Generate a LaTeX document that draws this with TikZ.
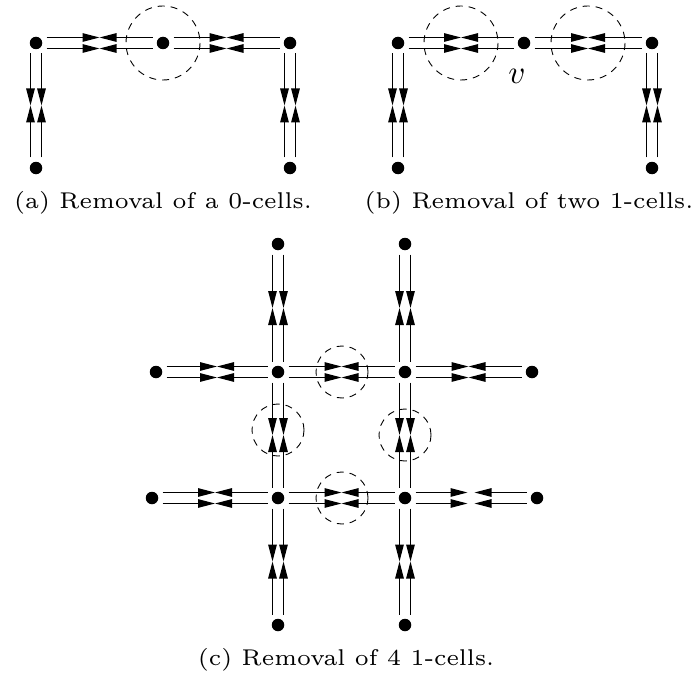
\documentclass[tikz,border=0pt]{standalone}
\usepackage{tikz}
\usetikzlibrary{arrows.meta}
\usetikzlibrary{calc}

\begin{document}
\begin{tikzpicture}[
  x=1pt, y=-1pt,
  dot/.style={circle, fill, inner sep=0pt, minimum size=12.5pt},
  half/.style={line width=1.1pt, shorten <=10.5pt, -{Triangle[length=17pt, width=8.5pt]}},
  zone/.style={dash pattern=on 7pt off 6pt, line width=0.9pt},
  caption/.style={anchor=base, inner sep=0pt, font=\fontsize{6}{7}\selectfont},
]
  \useasboundingbox (0,0) rectangle (696,682);

  % Nodes (a)
  \node[dot] (a1) at (36,43)   {};
  \node[dot] (a2) at (163,43)  {};
  \node[dot] (a3) at (290,43)  {};
  \node[dot] (a4) at (36,168)  {};
  \node[dot] (a5) at (290,168) {};

  % Nodes (b)
  \node[dot] (b1) at (398,43)  {};
  \node[dot] (b2) at (524,43)  {};
  \node[dot] (b3) at (652,43)  {};
  \node[dot] (b4) at (398,168) {};
  \node[dot] (b5) at (652,168) {};
  \node (vlab) at (517,76) {\scalebox{3.3}{$v$}};

  % Nodes (c)
  \node[dot] (c1)  at (278,244) {};
  \node[dot] (c2)  at (405,244) {};
  \node[dot] (c3)  at (156,372) {};
  \node[dot] (c4)  at (278,372) {};
  \node[dot] (c5)  at (405,372) {};
  \node[dot] (c6)  at (532,372) {};
  \node[dot] (c7)  at (152,498) {};
  \node[dot] (c8)  at (278,498) {};
  \node[dot] (c9)  at (405,498) {};
  \node[dot] (c10) at (537,498) {};
  \node[dot] (c11) at (278,625) {};
  \node[dot] (c12) at (405,625) {};

  % Edges: two parallel lines, arrows meeting in the middle
  \foreach \u/\v/\g in {a1/a2/0pt, a2/a3/0pt, a1/a4/0pt, a3/a5/0pt,
                        b1/b2/0pt, b2/b3/0pt, b1/b4/0pt, b3/b5/0pt,
                        c1/c4/0pt, c2/c5/0pt, c4/c8/0pt, c5/c9/0pt,
                        c8/c11/0pt, c9/c12/0pt, c3/c4/0pt, c4/c5/0pt,
                        c5/c6/0pt, c7/c8/0pt, c8/c9/0pt, c9/c10/3.5pt} {
    \coordinate (m) at ($(\u)!0.5!(\v)$);
    \foreach \s in {90,-90} {
      \draw[half, shorten >=\g] ($(\u)!5.5pt!\s:(\v)$) -- ($(m)!5.5pt!\s:(\v)$);
      \draw[half, shorten >=\g] ($(\v)!5.5pt!\s:(\u)$) -- ($(m)!5.5pt!\s:(\u)$);
    }
  }

  % Removed cells
  \draw[zone] (a2) circle[radius=37];
  \draw[zone] ($(b1)!0.5!(b2)$) circle[radius=37];
  \draw[zone] ($(b2)!0.5!(b3)$) circle[radius=37];
  \draw[zone] (342,372) circle[radius=26];
  \draw[zone] (278,430) circle[radius=26];
  \draw[zone] (405,435) circle[radius=26];
  \draw[zone] (342,498) circle[radius=26];

  % Captions
  \node[caption] (capa) at (163,208) {\scalebox{3.8}{(a) Removal of a 0-cells.}};
  \node[caption] (capb) at (529,208) {\scalebox{3.8}{(b) Removal of two 1-cells.}};
  \node[caption] (capc) at (346,665) {\scalebox{3.8}{(c) Removal of 4 1-cells.}};
\end{tikzpicture}
\end{document}
